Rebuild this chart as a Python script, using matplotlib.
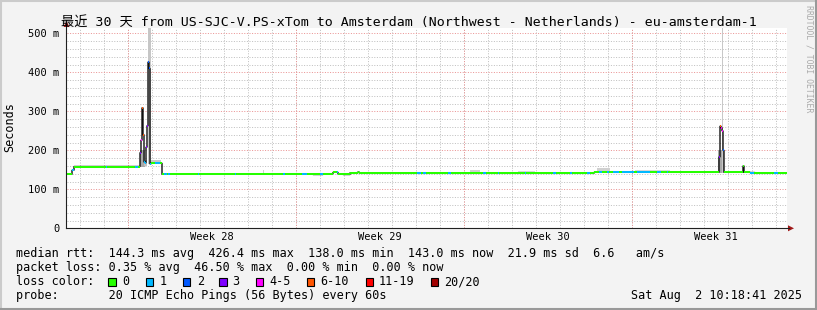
import numpy as np
import matplotlib
matplotlib.use("Agg")
import matplotlib.pyplot as plt
from matplotlib.collections import LineCollection
from matplotlib.patches import Rectangle, Polygon

# ---------------- data (hourly samples over the last 30 days) ----------------
# median RTT as runs: (hours, median in ms)
median_runs = [
    (5, 138.5), (2, 149.0), (66, 158.5),
    (1, 194.0), (1, 226.0), (1, 309.0), (1, 240.0), (1, 170.0), (1, 168.0),
    (1, 208.0), (1, 263.0), (1, 426.4), (1, 410.0), (1, 165.0),
    (11, 167.0),
    (141, 138.5),
    (10, 139.5), (10, 138.0), (10, 140.0),
    (5, 143.6), (5, 139.0), (7, 138.0),
    (8, 142.5), (1, 145.0), (1, 142.5),
    (234, 141.0),
    (125, 143.6),
    (1, 183.0), (1, 262.0), (1, 258.0), (1, 250.0), (1, 200.0),
    (19, 143.6), (1, 160.0), (6, 143.6),
    (5, 143.0), (15, 141.0), (5, 142.5), (12, 141.5),
]
# loss class runs: (start hour, hours, loss class index); default class 0
loss_runs = [
    (5, 2, 1), (39, 1, 1), (68, 3, 1),
    (73, 1, 3), (74, 1, 4), (75, 1, 5), (76, 1, 5), (77, 1, 1), (78, 1, 1),
    (79, 1, 3), (80, 1, 3), (81, 1, 2), (82, 1, 2), (83, 1, 1),
    (88, 5, 1), (97, 3, 1), (101, 2, 1), (131, 1, 1), (168, 1, 1),
    (216, 2, 1), (235, 5, 1), (253, 3, 1), (270, 1, 1),
    (350, 4, 1), (356, 3, 1), (381, 3, 1), (416, 3, 1), (431, 1, 1),
    (458, 1, 1), (486, 3, 1), (503, 2, 1), (520, 3, 1),
    (532, 3, 1), (540, 2, 1), (546, 6, 1), (555, 12, 1), (570, 13, 1),
    (590, 4, 1), (600, 1, 1),
    (652, 1, 3), (653, 1, 5), (654, 1, 4), (655, 1, 4), (656, 1, 2),
    (683, 4, 1), (707, 4, 1),
]
# smoke (ping spread): (start hour, hours, low ms, high ms, shade)
smoke = [
    (73, 5, 158, 200, "#a8a8a8"), (77, 3, 160, 176, "#c0c0c0"),
    (81, 3, 165, 520, "#c6c6c6"), (84, 10, 166, 174, "#c8c8c8"),
    (196, 1, 138, 149, "#d0d0d0"), (220, 18, 138, 142.5, "#d4d4d4"),
    (403, 10, 141, 149, "#d0d0d0"), (451, 17, 141, 146, "#d8d8d8"),
    (530, 13, 142, 154, "#d0d0d0"), (568, 35, 142, 149, "#d8d8d8"),
    (651, 6, 143, 200, "#a8a8a8"), (655, 1, 143, 520, "#c8c8c8"),
]
loss_labels = ["0", "1", "2", "3", "4-5", "6-10", "11-19", "20/20"]
loss_colors = ["#26ff00", "#00b8ff", "#0059ff", "#7e00ff",
               "#ff00ff", "#ff5500", "#ff0000", "#a10000"]
y_ticks = [0, 100, 200, 300, 400, 500]
y_tick_labels = ["0", "100 m", "200 m", "300 m", "400 m", "500 m"]
week_labels = ["Week 28", "Week 29", "Week 30", "Week 31"]
week_label_pos = [144.7, 312.7, 480.7, 648.7]
week_lines = [60.7, 228.7, 396.7, 564.7]
day_lines = [12.7 + 24 * k for k in range(30)]

title = "最近 30 天 from US-SJC-V.PS-xTom to Amsterdam (Northwest - Netherlands) - eu-amsterdam-1"
row1 = "median rtt:  144.3 ms avg  426.4 ms max  138.0 ms min  143.0 ms now  21.9 ms sd  6.6   am/s"
row2 = "packet loss: 0.35 % avg  46.50 % max  0.00 % min  0.00 % now"
row3_head = "loss color:"
row4 = "probe:       20 ICMP Echo Pings (56 Bytes) every 60s"
stamp = "Sat Aug  2 10:18:41 2025"

# ---------------- build hourly arrays ----------------
median = np.concatenate([np.full(n, v) for n, v in median_runs])
loss = np.zeros(len(median), dtype=int)
for s, n, c in loss_runs:
    loss[s:s + n] = c
edges = np.arange(len(median) + 1)

# ---------------- figure ----------------
W, H = 817, 310
fig = plt.figure(figsize=(W / 100, H / 100), dpi=100)
fig.patch.set_facecolor("#f3f3f3")

x0, x1 = 67, 787
yb, yt = 228.3, 27.5
ax = fig.add_axes([x0 / W, 1 - yb / H, (x1 - x0) / W, (yb - yt) / H])
ax.set_facecolor("white")
ax.set_xlim(0, 720)
ax.set_ylim(0, 515)
for s in ax.spines.values():
    s.set_visible(False)

mono = "DejaVu Sans Mono"

# grid
minor_y = [v for v in range(20, 515, 20) if v % 100 != 0]
for v in minor_y:
    ax.axhline(v, color="#c0c0c0", lw=0.72, ls=(0, (1, 1.6)), zorder=0)
for v in day_lines:
    ax.axvline(v, color="#c0c0c0", lw=0.72, ls=(0, (1, 1.6)), zorder=0)
for v in y_ticks[1:]:
    ax.axhline(v, color="#ea9494", lw=0.72, ls=(0, (1, 1.6)), zorder=0.5)
for v in week_lines:
    ax.axvline(v, color="#ea9494", lw=0.72, ls=(0, (1, 1.6)), zorder=0.5)

# smoke
for s, n, lo, hi, col in smoke:
    ax.bar(s, hi - lo, bottom=lo, width=n, align="edge", color=col,
           linewidth=0, zorder=1)

# median black step + colored loss segments
ax.stairs(median, edges, baseline=None, color="#101010", linewidth=1.0, zorder=2)
segs = [[(edges[i], median[i]), (edges[i + 1], median[i])] for i in range(len(median))]
lc = LineCollection(segs, colors=[loss_colors[c] for c in loss], linewidths=1.45,
                    capstyle="butt", zorder=3)
ax.add_collection(lc)

# ticks
ax.set_yticks(y_ticks)
ax.set_yticklabels(y_tick_labels, family=mono, fontsize=7.5)
ax.set_xticks(week_label_pos)
ax.set_xticklabels(week_labels, family=mono, fontsize=7.5)
ax.tick_params(axis="both", length=0)
ax.tick_params(axis="y", pad=5.5)
ax.tick_params(axis="x", pad=3.0)

# ---------------- overlay in pixel coordinates ----------------
ov = fig.add_axes([0, 0, 1, 1], zorder=5)
ov.set_xlim(0, W)
ov.set_ylim(H, 0)
ov.axis("off")
ov.patch.set_alpha(0)

# axes lines and arrows
ov.plot([x0 - 0.5, x0 - 0.5], [yb, 24], color="#202020", lw=0.8)
ov.plot([x0 - 0.5, 789], [yb, yb], color="#202020", lw=0.8)
ov.add_patch(Polygon([[788, yb - 3], [794, yb], [788, yb + 3]], closed=True,
                     color="#a01818", lw=0))
ov.add_patch(Polygon([[x0 - 3.5, 27], [x0 - 0.5, 21], [x0 + 2.5, 27]], closed=True,
                     color="#a01818", lw=0))

# frame shading
ov.plot([0, W], [0.7, 0.7], color="#cbcbcb", lw=1.5)
ov.plot([0.7, 0.7], [0, H], color="#cbcbcb", lw=1.5)
ov.plot([0, W], [H - 1, H - 1], color="#999999", lw=1.5)
ov.plot([W - 1, W - 1], [0, H], color="#999999", lw=1.5)

# title
ov.text(W / 2, 26, title, ha="center", va="baseline", fontsize=9.5,
        family=[mono, "Noto Sans CJK SC"], color="black")
# y label
ov.text(10, 127, "Seconds", rotation=90, ha="center", va="center",
        fontsize=8.5, family=mono)
# watermark
ov.text(809, 5, "RRDTOOL / TOBI OETIKER", rotation=270, ha="center", va="top",
        fontsize=5.9, family=mono, color="#aaaaaa")

# legend rows
ov.text(16, 257.5, row1, ha="left", va="baseline", fontsize=8.5, family=mono)
ov.text(16, 271.3, row2, ha="left", va="baseline", fontsize=8.5, family=mono)
ov.text(16, 285.2, row3_head, ha="left", va="baseline", fontsize=8.5, family=mono)
box_x = [108.3, 145.7, 182.7, 219.3, 256.0, 306.7, 365.7, 430.7]
lab_x = [122.3, 159.7, 196.7, 232.0, 269.0, 320.0, 378.5, 444.0]
for bx, lx, col, lab in zip(box_x, lab_x, loss_colors, loss_labels):
    ov.add_patch(Rectangle((bx, 278.3), 7.5, 7.5, facecolor=col,
                           edgecolor="black", lw=0.8))
    ov.text(lx, 285.2, lab, ha="left", va="baseline", fontsize=8.5, family=mono)
ov.text(16, 299.2, row4, ha="left", va="baseline", fontsize=8.5, family=mono)
ov.text(802, 299.2, stamp, ha="right", va="baseline", fontsize=8.5, family=mono)

fig.savefig("out.png", dpi=100, facecolor=fig.get_facecolor())
